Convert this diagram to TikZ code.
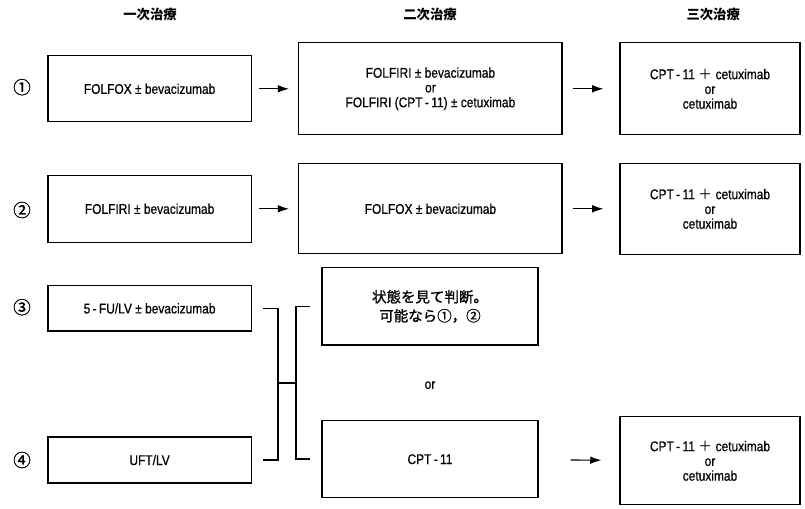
\documentclass[tikz,border=0pt]{standalone}
\usepackage{fontspec}
\setmainfont{Liberation Sans}[FakeStretch=0.85, FakeBold=0.6]
\newfontfamily\jp{Noto Sans CJK JP}
\newfontfamily\jpm{Noto Sans CJK JP}[FakeBold=1.2]
\usepackage{tikz}
\usetikzlibrary{arrows.meta}
\pgfdeclarelayer{edgelayer}
\pgfdeclarelayer{nodelayer}
\pgfsetlayers{edgelayer,nodelayer,main}
\newcommand{\cptname}{CPT\,-\,11}
\tikzset{
	box/.style={draw, line width=0.8pt, inner sep=0pt, align=center, font=\fontsize{10}{10.5}\selectfont},
	jpbox/.style={box, font=\jpm\fontsize{10.3}{13.5}\selectfont},
	head/.style={font=\jp\bfseries\fontsize{9.5}{11}\selectfont},
	num/.style={font=\jpm\fontsize{12.5}{14}\selectfont},
	flow/.style={-{Latex[length=2.8mm,width=1.9mm]}, line width=0.8pt},
	brace/.style={line width=1.1pt},
}

\begin{document}
\begin{tikzpicture}
	\useasboundingbox (0,0) rectangle (20.125,-12.7);
	\begin{pgfonlayer}{nodelayer}
		\node [head] (0) at (3.75, -0.35) {一次治療};
		\node [head] (1) at (10.75, -0.35) {二次治療};
		\node [head] (2) at (17.83, -0.35) {三次治療};
		\node [num] (3) at (0.55, -2.18) {①};
		\node [num] (4) at (0.55, -5.25) {②};
		\node [num] (5) at (0.55, -7.68) {③};
		\node [num] (6) at (0.55, -11.5) {④};
		\node [box, minimum width=5.08cm, minimum height=1.65cm] (7) at (3.74, -2.22) {FOLFOX ± bevacizumab};
		\node [box, minimum width=6.58cm, minimum height=2.3cm] (8) at (10.76, -2.22) {FOLFIRI ± bevacizumab\\or\\FOLFIRI (\cptname) ± cetuximab};
		\node [box, minimum width=4.5cm, minimum height=2.3cm] (9) at (17.75, -2.22) {\cptname\ {\jp ＋} cetuximab\\or\\cetuximab};
		\node [box, minimum width=5.08cm, minimum height=1.68cm] (10) at (3.74, -5.22) {FOLFIRI ± bevacizumab};
		\node [box, minimum width=6.58cm, minimum height=2.25cm] (11) at (10.76, -5.22) {FOLFOX ± bevacizumab};
		\node [box, minimum width=4.5cm, minimum height=2.28cm] (12) at (17.75, -5.22) {\cptname\ {\jp ＋} cetuximab\\or\\cetuximab};
		\node [box, minimum width=5.08cm, minimum height=1.13cm] (13) at (3.74, -7.71) {5\,-\,FU/LV ± bevacizumab};
		\node [jpbox, minimum width=5.4cm, minimum height=1.93cm] (14) at (10.75, -7.66) {状態を見て判断。\\可能なら①，②};
		\node [font=\fontsize{10}{10.5}\selectfont] (15) at (10.75, -9.63) {or};
		\node [box, minimum width=5.08cm, minimum height=1.15cm] (16) at (3.74, -11.5) {UFT/LV};
		\node [box, minimum width=5.4cm, minimum height=1.93cm] (17) at (10.75, -11.48) {\cptname};
		\node [box, minimum width=4.5cm, minimum height=2.2cm] (18) at (17.75, -11.52) {\cptname\ {\jp ＋} cetuximab\\or\\cetuximab};
		\coordinate (19) at (6.58, -7.71);
		\coordinate (20) at (6.95, -7.71);
		\coordinate (21) at (6.95, -11.5);
		\coordinate (22) at (6.58, -11.5);
		\coordinate (23) at (6.95, -9.58);
		\coordinate (24) at (7.4, -9.58);
		\coordinate (25) at (7.75, -7.66);
		\coordinate (26) at (7.4, -7.66);
		\coordinate (27) at (7.4, -11.48);
		\coordinate (28) at (7.75, -11.48);
	\end{pgfonlayer}
	\begin{pgfonlayer}{edgelayer}
		\draw [flow, shorten <=0.18cm, shorten >=0.23cm] (7) to (8);
		\draw [flow, shorten <=0.25cm, shorten >=0.4cm] (8) to (9);
		\draw [flow, shorten <=0.18cm, shorten >=0.23cm] (10) to (11);
		\draw [flow, shorten <=0.25cm, shorten >=0.4cm] (11) to (12);
		\draw [flow, shorten <=0.8cm, shorten >=0.45cm] (17) to (18);
		\draw [brace] (19) -- (20) -- (21) -- (22);
		\draw [brace] (23) -- (24);
		\draw [brace] (25) -- (26) -- (27) -- (28);
	\end{pgfonlayer}
\end{tikzpicture}
\end{document}
